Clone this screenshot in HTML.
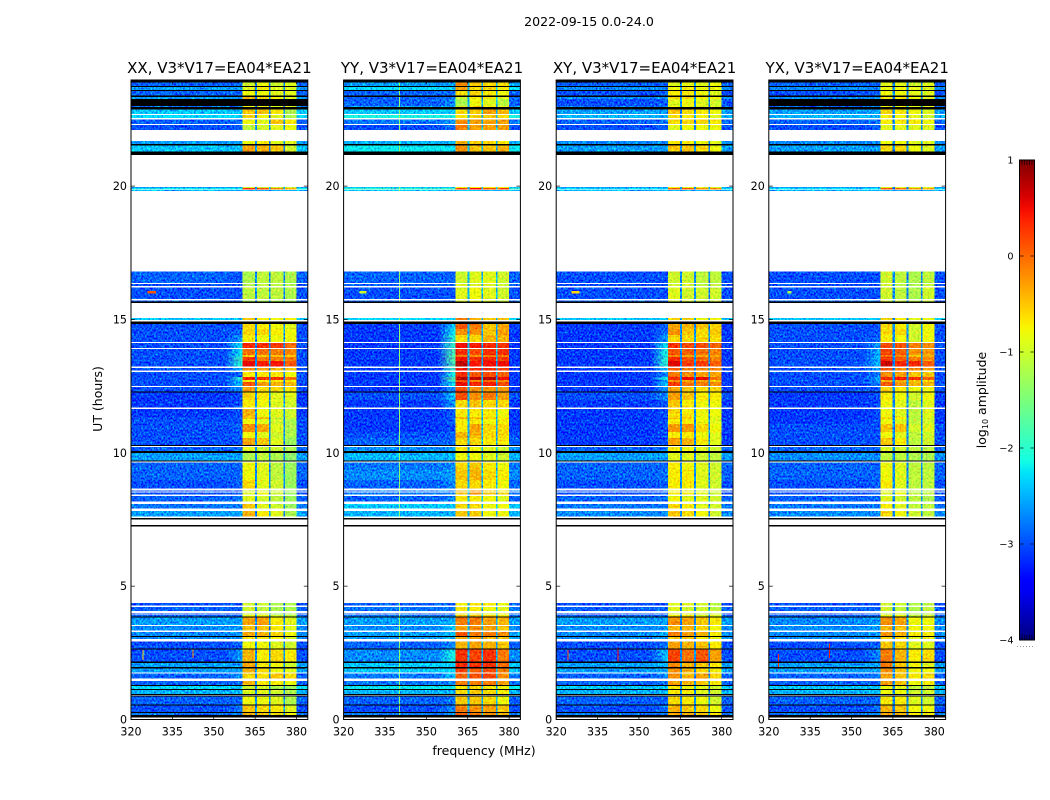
<!DOCTYPE html>
<html lang="en">
<head>
<meta charset="utf-8">
<title>2022-09-15 amplitude waterfall</title>
<style>
html,body{margin:0;padding:0;background:#fff;width:1050px;height:800px;overflow:hidden}
svg{display:block}
text{font-family:"DejaVu Sans","Liberation Sans",sans-serif;fill:#000}
</style>
</head>
<body>
<svg id="chart" xmlns="http://www.w3.org/2000/svg" width="1050" height="800" viewBox="0 0 1050 800">
<defs id="chartDefs">
<filter id="noiseBg" x="0" y="0" width="100%" height="100%" color-interpolation-filters="sRGB">
<feTurbulence type="fractalNoise" baseFrequency="0.55 0.5" numOctaves="2" seed="7" result="t"/>
<feColorMatrix in="t" type="matrix" values="0 0 0 0 0.5 1 0 0 0 0 0 0 0 0 0.5 0 0 0 0 1" result="g"/>
<feComposite in="SourceGraphic" in2="g" operator="arithmetic" k1="0" k2="1" k3="1.3" k4="-0.65" result="m"/>
<feComposite in="m" in2="SourceAlpha" operator="in"/>
</filter>
<filter id="noiseWin" x="0" y="0" width="100%" height="100%" color-interpolation-filters="sRGB">
<feTurbulence type="fractalNoise" baseFrequency="0.5 0.5" numOctaves="1" seed="3" result="t"/>
<feColorMatrix in="t" type="matrix" values="1 0 0 0 0 0 1 0 0 0 0 0 0 0 0.5 0 0 0 0 1" result="g"/>
<feComposite in="SourceGraphic" in2="g" operator="arithmetic" k1="0" k2="1" k3="0.7" k4="-0.35" result="m"/>
<feComposite in="m" in2="SourceAlpha" operator="in"/>
</filter>
<linearGradient id="jetGradient" x1="0" y1="1" x2="0" y2="0"></linearGradient>
</defs>
<text x="589" y="26" font-size="12.6" text-anchor="middle">2022-09-15 0.0-24.0</text>
<text x="484" y="755" font-size="12.5" text-anchor="middle">frequency (MHz)</text>
<text transform="translate(102,399) rotate(-90)" font-size="12.5" text-anchor="middle">UT (hours)</text>
<g id="panels"></g>
<g id="colorbar"></g>
<text transform="translate(986,400) rotate(-90)" font-size="12.5" text-anchor="middle">log<tspan font-size="8" dy="2">10</tspan><tspan dy="-2"> amplitude</tspan></text>
</svg>
<script>
// ---------- data ----------
const panelTitles = ["XX, V3*V17=EA04*EA21","YY, V3*V17=EA04*EA21","XY, V3*V17=EA04*EA21","YX, V3*V17=EA04*EA21"];
const xTicks = [320,335,350,365,380];
const yTicks = [0,5,10,15,20];
const colorbarTicks = [-4,-3,-2,-1,0,1];
const BLACK = -9; // below colour range: flagged

// frequency edges: background-left, background-edge, window1, gap, window2, gap, window3, gap, window4, tail
const freqEdges = [320,350,360.5,364.9,365.7,370,370.6,375.2,375.8,380,384.1];
const gapLevels = [-2.7,-2.5,-2.7,-2.7];

// UT bands (top hour, bottom hour) holding data
const utBands = [
[23.88,23.76],[23.71,23.61],[23.56,23.39],[23.35,23.27],[23.27,23.01],[23.01,22.97],[22.88,22.71],[22.67,22.56],[22.50,22.33],[22.29,22.11],
[21.69,21.57],[21.53,21.29],[19.97,19.93],[19.93,19.88],[19.86,19.82],[16.79,16.36],[16.33,16.26],[16.20,15.77],[15.71,15.68],[15.06,14.98],
[14.83,14.64],[14.64,14.42],[14.42,14.15],[14.11,13.93],[13.89,13.67],[13.67,13.59],[13.59,13.44],
[13.44,13.23],[13.18,13.08],[13.03,12.84],[12.84,12.73],[12.73,12.66],[12.66,12.51],[12.46,12.29],[12.26,11.98],[11.98,11.69],[11.64,11.34],
[11.34,11.27],[11.27,11.08],[11.08,10.78],[10.78,10.56],[10.56,10.29],[10.22,10.07],[10.00,9.71],[9.63,9.36],[9.36,8.98],[8.98,8.67],
[8.58,8.54],[8.51,8.43],[8.38,8.17],[8.08,7.92],[7.82,7.61],[4.37,4.28],
[4.22,4.07],[3.98,3.94],[3.91,3.86],[3.82,3.54],[3.51,3.33],[3.29,3.13],[3.09,3.01],[2.92,2.67],[2.63,2.17],[2.11,1.96],[1.92,1.77],[1.73,1.53],
[1.44,1.29],[1.25,1.14],[1.11,0.96],[0.87,0.57],[0.53,0.29],[0.25,0.16]];

// flagged bands common to all polarisations
const blackBands = [
[23.98,23.88],[23.76,23.71],[23.61,23.56],[23.39,23.35],[22.97,22.88],[21.57,21.53],[21.29,21.17],[15.68,15.62],[14.92,14.83],[12.29,12.26],
[10.29,10.26],[10.07,10.00],[9.71,9.67],[7.55,7.49],[7.29,7.23],[3.86,3.82],[3.13,3.09],[2.67,2.63],[2.17,2.11],[1.96,1.92],[1.29,1.25],
[1.14,1.11],[0.96,0.92],[0.90,0.87],[0.57,0.53],[0.29,0.25],[0.16,0.08]];

// per-band levels: [left background, edge background, window 1, 2, 3, 4]
const levelsXX = [
[-2.9,-2.9,-1,-.8,-1,-.9],[-2.6,-2.6,-.9,-.7,-.9,-.9],[-2.9,-2.9,-.8,-.8,-.9,-.9],[-2.6,-2.6,-.4,-.6,-.8,-.9],[BLACK,BLACK,BLACK,BLACK,BLACK,BLACK],
[-2.8,-2.8,-.8,-.8,-.9,-.9],[-2.4,-2.5,-.5,-.5,-.7,-1.2],[-2.3,-2.3,-.6,-.8,-.9,-1.2],[-2.9,-2.8,-.8,-.9,-.5,-.7],[-3,-2.9,-1.1,-1,-.9,-.8],
[-2.6,-2.6,-.8,-.7,-.9,-.9],[-2.4,-2.5,-.3,-.4,-.5,-1],[-2.6,-2.6,-1,-1,-1,-1],[-2.2,-2.2,.3,.2,-.2,-.4],[-2.5,-2.5,-2.5,-2.5,-2.5,-2.5],
[-2.9,-3,-1.2,-1.1,-1.1,-1.2],[-3,-3,-1.2,-1.1,-1.1,-1.2],[-3,-3,-1.1,-1.1,-1.1,-1.2],[-2.9,-2.9,-1.2,-1.2,-1.2,-1.3],[-2.4,-2.4,-.5,-.7,-.8,-.7],
[-3,-3,-.6,-.7,-.8,-.9],[-3,-2.9,-.6,-.6,-.7,-.8],[-3,-2.6,-.7,-.8,-.8,-.8],[-3,-2.2,.35,.3,.25,0],[-3,-2.2,-.05,-.05,-.1,-.15],[-3,-2.1,-.5,-.5,-.5,-.5],[-3,-1.9,.25,-.1,-.1,-.1],
[-3,-2,.55,.4,.45,.1],[-3,-2.4,-.2,-.3,-.4,-.5],[-3,-2.9,-.7,-.7,-.7,-.8],[-3,-2,.35,.3,.3,-.1],[-3,-2.4,-.7,-.7,-.7,-.7],[-3,-2.4,.1,-.3,-.4,-.4],[-3,-2.7,-.3,-.6,-.6,-.7],[-3.1,-3,-.6,-.7,-.9,-.9],[-3.1,-3,-.7,-.8,-.9,-1],[-3.1,-3,-.4,-.8,-.9,-1],
[-3,-3,-.5,-.5,-1,-1],[-3,-3,-.8,-.9,-1,-1.2],[-3,-2.9,-.2,-.35,-.9,-1.2],[-3,-2.9,-.8,-.9,-1,-1.2],[-3,-3,-.3,-.5,-.9,-1.3],[-2.9,-2.9,-.9,-1,-1,-1.2],[-2.6,-2.6,-1.2,-1.1,-1.2,-1.4],[-2.9,-2.9,-.8,-.9,-1.1,-1.3],[-2.9,-2.9,-.8,-.9,-1.1,-1.3],[-3,-2.9,-.6,-.9,-1,-1.3],
[-3,-3,-.9,-.9,-1,-1.3],[-3,-2.9,-.9,-.8,-1,-1.3],[-2.9,-2.8,-.9,-1,-1.1,-1.3],[-2.8,-2.8,-.5,-.9,-1,-1.3],[-2.6,-2.6,-.4,-.7,-.9,-1.2],[-3,-3,-1,-1,-1.2,-1.2],
[-2.9,-2.9,-1,-1.1,-1.2,-1.2],[-3,-3,-1,-1,-1.2,-1.2],[-2.9,-2.9,-.8,-.8,-1,-1.1],[-2.6,-2.6,-.3,-.3,-.7,-.9],[-2.7,-2.6,-.5,-.5,-.7,-.9],[-2.7,-2.6,-.35,-.4,-.6,-.8],[-2.7,-2.7,-.7,-.7,-.8,-.9],[-3,-2.9,-.8,-.8,-.9,-1],[-3,-2.6,-.4,-.7,-.6,-.7],[-2.6,-2.6,-.3,-.7,-.8,-1],[-2.6,-2.6,-.4,-.6,-.8,-.9],[-2.9,-2.7,-.6,-.6,-.5,-.6],
[-2.9,-2.9,-.4,-.7,-.7,-.8],[-2.3,-2.4,-1,-1,-1.2,-1.3],[-2.5,-2.5,-.9,-.9,-1,-1.2],[-2.9,-2.9,-.8,-.8,-.9,-1.2],[-3,-2.8,-.5,-.6,-.7,-.9],[-2.8,-2.7,-.4,-.5,-.6,-.8]];

const levelsYY = [
[-2.6,-2.6,-.2,-.5,-.6,-.6],[-2.3,-2.4,-.3,-.6,-.6,-.7],[-2.9,-2.8,-.6,-.6,-.7,-.8],[-2.9,-2.8,-1,-.7,-.7,-.9],[-2.9,-2.7,-1.2,-.8,-.9,-1.1],
[-2.6,-2.5,-.9,-.6,-.7,-.9],[-2.4,-2.4,-.6,-.5,-.3,-.4],[-2.1,-2.1,-.7,-.6,-.5,-.6],[-2.8,-2.6,-.2,-.3,-.3,-.3],[-3,-2.8,-.1,-.3,-.3,-.3],
[-2.5,-2.5,-.4,-.5,-.6,-.7],[-2.2,-2.3,-.2,-.5,-.5,-.4],[-2.4,-2.4,-.7,-.7,-.7,-.7],[-2,-1.9,.25,.45,.2,.2],[-2.4,-2.4,-2.4,-2.4,-2.4,-2.4],
[-2.9,-2.9,-1,-.9,-.9,-1],[-2.9,-2.9,-.9,-.9,-.9,-1],[-3,-3,-.9,-.8,-.9,-1],[-2.9,-2.9,-.9,-.8,-.9,-1],[-2.3,-2.3,-.1,-.4,-.5,-.5],
[-3.1,-2.3,.1,-.1,-.5,-.3],[-3.1,-2.2,-.2,-.2,-.5,-.3],[-3.1,-2,-.6,-.6,-.4,-.4],[-3.1,-1.9,.5,.4,.35,.3],[-3.1,-1.8,.35,.15,.3,.3],[-3.1,-1.7,-.1,-.2,-.1,-.1],[-3.1,-1.7,.5,.3,.35,.25],
[-3.1,-1.8,.75,.45,.5,.5],[-3.1,-1.9,.5,.3,.3,.2],[-3.1,-2.1,.3,.1,.15,.05],[-3.1,-1.7,.75,.7,.75,.5],[-3.1,-2,.1,-.1,0,-.2],[-3.1,-2.2,.55,.35,.4,.2],[-3.1,-2.6,.15,-.2,-.2,-.3],[-3,-2.4,.15,-.2,-.1,-.3],[-3.1,-2.6,-.6,-.5,-.6,-.6],[-3.1,-2.9,-.7,-.7,-.7,-.8],
[-3.1,-3,-.4,-.5,-.6,-.7],[-3.1,-2.9,-.7,-.7,-.8,-.7],[-3.1,-3,-.7,-.3,-.6,-.6],[-3,-2.9,-.4,-.4,-.6,-.6],[-2.9,-2.9,-.6,-.6,-.7,-.7],[-2.7,-2.6,-.7,-.8,-.9,-1],[-2.5,-2.5,-.8,-.8,-.9,-1],[-2.8,-2.7,-.6,-.5,-.7,-.8],[-2.7,-2.6,-.5,-.4,-.6,-.7],[-2.9,-2.7,-.6,-.6,-.7,-.8],
[-2.8,-2.8,-.4,-.2,-.6,-.7],[-2.8,-2.7,-.5,-.2,-.5,-.6],[-2.9,-2.7,-.7,-.7,-.8,-.9],[-2.4,-2.4,-.6,-.6,-.8,-.8],[-2.5,-2.5,-.5,-.5,-.8,-.8],[-2.9,-2.9,-.7,-.7,-.7,-.8],
[-2.8,-2.8,-.7,-.7,-.8,-.9],[-2.9,-2.9,-.7,-.7,-.8,-.8],[-2.8,-2.8,-.5,-.5,-.6,-.7],[-2.6,-2.5,-.1,-.1,-.3,-.4],[-2.7,-2.4,-.3,-.2,-.3,-.5],[-2.6,-2.4,.1,-.1,-.1,-.2],[-2.6,-2.5,-.4,-.3,-.4,-.5],[-2.9,-2.7,-.4,-.3,-.4,-.5],[-2.7,-2.1,.3,.2,.3,-.1],[-2.4,-2.3,.35,.3,.3,0],[-2.4,-2.3,.2,.1,.15,-.1],[-2.8,-2.4,.05,.1,.2,-.2],
[-2.8,-2.7,-.1,-.1,-.1,-.3],[-2.2,-2.2,-.7,-.6,-.7,-.8],[-2.5,-2.5,-.6,-.5,-.6,-.7],[-2.9,-2.8,-.5,-.5,-.6,-.8],[-3,-2.7,-.1,-.2,-.3,-.5],[-2.8,-2.6,.05,-.1,-.2,-.4]];

const levelsXY = [
[-2.9,-2.9,-.9,-.8,-.9,-.8],[-2.7,-2.7,-.8,-.7,-.8,-.8],[-3,-2.9,-.7,-.7,-.8,-.9],[-2.7,-2.7,-.6,-.6,-.7,-.8],[-3,-2.9,-.9,-.8,-.9,-1],
[-2.8,-2.8,-.8,-.8,-.9,-.9],[-2.6,-2.6,-.5,-.6,-.7,-.8],[-2.5,-2.5,-.6,-.7,-.8,-.9],[-2.9,-2.8,-.6,-.6,-.6,-.7],[-3,-2.9,-.9,-.8,-.8,-.8],
[-2.7,-2.7,-.7,-.7,-.8,-.9],[-2.6,-2.6,-.5,-.5,-.6,-.8],[-2.6,-2.6,-.8,-.9,-.9,-.9],[-2.3,-2.3,.1,.05,-.2,-.2],[-2.5,-2.5,-2.5,-2.5,-2.5,-2.5],
[-3,-3,-1,-1,-1.1,-1.1],[-3,-3,-1,-1,-1.1,-1.1],[-3,-3,-.9,-1,-1,-1],[-2.9,-2.9,-1,-1,-1,-1],[-2.4,-2.4,-.6,-.6,-.8,-.8],
[-3.1,-2.9,-.3,-.4,-.5,-.6],[-3.1,-2.8,-.2,-.5,-.6,-.5],[-3.1,-2.6,-.6,-.6,-.6,-.6],[-3.1,-2.2,.3,.15,.15,.05],[-3.1,-2.1,.1,.05,-.05,-.15],[-3.1,-2.1,-.2,-.3,-.3,-.3],[-3.1,-2,.35,.1,0,-.1],
[-3.1,-2,.6,.25,.25,.05],[-3.1,-2.4,.05,-.1,-.15,-.15],[-3.1,-2.7,-.1,-.2,-.3,-.3],[-3.1,-2.1,.35,.5,.55,-.05],[-3.1,-2.5,-.2,-.3,-.3,-.5],[-3.1,-2.4,.25,-.05,-.1,-.2],[-3.1,-2.6,-.3,-.5,-.6,-.6],[-3,-2.7,-.3,-.5,-.7,-.7],[-3.1,-2.9,-.5,-.7,-.8,-.8],[-3.1,-3,-.6,-.7,-.8,-.8],
[-3.1,-3,-.6,-.5,-.8,-.9],[-3.1,-3,-.7,-.7,-.8,-.9],[-3.1,-3,-.25,-.25,-.6,-.8],[-3.1,-3,-.7,-.7,-.8,-.9],[-3.1,-3,-.3,-.4,-.7,-.9],[-2.9,-2.8,-.7,-.8,-.9,-1],[-2.6,-2.6,-.9,-.9,-1,-1.1],[-2.9,-2.9,-.7,-.8,-.9,-1],[-2.9,-2.8,-.7,-.7,-.9,-1],[-3,-2.9,-.7,-.7,-.9,-1],
[-3,-2.9,-.8,-.8,-.9,-1],[-3,-2.9,-.7,-.7,-.9,-1],[-2.9,-2.8,-.8,-.9,-.9,-1],[-2.8,-2.8,-.6,-.7,-.9,-1],[-2.7,-2.7,-.5,-.6,-.8,-1],[-3,-3,-.9,-.9,-1,-1.1],
[-2.9,-2.9,-.9,-1,-1,-1.1],[-3,-2.9,-.9,-.9,-1,-1],[-2.9,-2.9,-.7,-.7,-.9,-.9],[-2.6,-2.6,-.2,-.3,-.5,-.7],[-2.7,-2.6,-.4,-.4,-.6,-.8],[-2.7,-2.5,-.1,-.3,-.4,-.7],[-2.7,-2.6,-.5,-.5,-.7,-.8],[-3,-2.8,-.3,-.4,-.5,-.7],[-3,-2.4,.2,-.05,.1,-.3],[-2.6,-2.5,-.2,-.4,-.5,-.7],[-2.6,-2.5,-.2,-.4,-.6,-.7],[-2.9,-2.7,-.2,-.4,-.3,-.6],
[-2.9,-2.8,-.3,-.4,-.5,-.7],[-2.4,-2.4,-.7,-.8,-.9,-1],[-2.5,-2.5,-.7,-.7,-.9,-1],[-2.9,-2.9,-.6,-.7,-.8,-1],[-3,-2.8,-.4,-.5,-.6,-.8],[-2.8,-2.7,-.3,-.4,-.5,-.7]];

const levelsYX = [
[-2.9,-2.9,-.9,-.9,-1,-.9],[-2.7,-2.7,-.8,-.8,-.9,-.9],[-3,-2.9,-.8,-.8,-.9,-.9],[-2.7,-2.7,-.7,-.7,-.8,-.9],[BLACK,BLACK,BLACK,BLACK,BLACK,BLACK],
[-2.9,-2.8,-.8,-.8,-.9,-.9],[-2.6,-2.6,-.6,-.7,-.8,-.9],[-2.5,-2.5,-.7,-.8,-.9,-1],[-2.9,-2.8,-.7,-.7,-.7,-.8],[-3,-2.9,-.9,-.9,-.9,-.9],
[-2.7,-2.7,-.8,-.8,-.9,-.9],[-2.6,-2.6,-.6,-.6,-.8,-.9],[-2.6,-2.6,-.9,-.9,-.9,-.9],[-2.3,-2.3,.05,0,-.3,-.3],[-2.5,-2.5,-2.5,-2.5,-2.5,-2.5],
[-3,-3,-1,-1.1,-1.2,-1.1],[-3,-3,-1,-1.1,-1.2,-1.1],[-3,-3,-1,-1.1,-1.2,-1],[-2.9,-2.9,-1,-1,-1.1,-1],[-2.4,-2.4,-.6,-.7,-.9,-.8],
[-3,-3,-.6,-.7,-1,-.8],[-3,-3,-.6,-.6,-1,-.8],[-3,-2.9,-.7,-.8,-1,-.8],[-3,-2.6,.15,.1,-.1,-.2],[-3,-2.5,.2,.05,-.2,-.25],[-3,-2.5,-.1,-.2,-.5,-.4],[-3,-2.5,.3,.1,-.1,-.2],
[-3,-2.4,.65,.35,.35,.05],[-3,-2.6,.1,-.15,-.2,-.3],[-3,-2.8,-.2,-.3,-.5,-.5],[-3,-2.5,.35,.45,.3,.05],[-3,-2.7,-.4,-.4,-.5,-.6],[-3,-2.7,.1,-.2,-.4,-.4],[-3,-2.9,-.6,-.7,-.8,-.8],[-3.1,-3,-.7,-.8,-1,-.8],[-3.1,-3,-.8,-.9,-1.1,-.9],[-3.1,-3,-.8,-.9,-1.1,-.9],
[-3.1,-3,-.6,-.7,-1.1,-.9],[-3.1,-3,-.8,-.9,-1.1,-1],[-3,-3,-.5,-.5,-1,-.9],[-3,-3,-.8,-.9,-1.1,-1],[-3,-3,-.5,-.7,-1.1,-1],[-2.9,-2.9,-.9,-1,-1.1,-1.1],[-2.7,-2.7,-1.1,-1.1,-1.2,-1.2],[-2.9,-2.9,-.8,-.9,-1.1,-1.1],[-2.9,-2.9,-.8,-.9,-1.1,-1.1],[-3,-2.9,-.7,-.9,-1.1,-1.1],
[-3,-3,-.9,-.9,-1.1,-1.1],[-3,-2.9,-.9,-.8,-1.1,-1.1],[-2.9,-2.9,-.9,-1,-1.1,-1.2],[-2.8,-2.8,-.7,-.9,-1.1,-1.1],[-2.7,-2.7,-.6,-.8,-1,-1.1],[-3,-3,-1,-1,-1.2,-1.1],
[-2.9,-2.9,-1,-1.1,-1.2,-1.1],[-3,-3,-1,-1,-1.2,-1.1],[-2.9,-2.9,-.8,-.8,-1.1,-1],[-2.7,-2.6,-.2,-.3,-.8,-.8],[-2.7,-2.6,-.4,-.5,-.8,-.8],[-2.7,-2.6,-.2,-.4,-.7,-.7],[-2.7,-2.7,-.6,-.6,-.9,-.8],[-3,-2.9,-.5,-.6,-.9,-.9],[-3,-2.7,-.1,-.4,-.7,-.6],[-2.6,-2.6,-.1,-.5,-.8,-.9],[-2.6,-2.6,-.2,-.5,-.8,-.8],[-2.9,-2.8,-.3,-.5,-.7,-.6],
[-2.9,-2.9,-.3,-.5,-.8,-.7],[-2.4,-2.4,-.8,-.9,-1.1,-1.1],[-2.5,-2.5,-.8,-.8,-1,-1],[-2.9,-2.9,-.7,-.7,-.9,-1],[-3,-2.8,-.4,-.5,-.8,-.8],[-2.8,-2.7,-.3,-.4,-.7,-.7]];

const panelLevels = [levelsXX,levelsYY,levelsXY,levelsYX];

// narrow interference features: panel index, freq (MHz), UT start, UT end, level
const rfiPanels = [1,0,0,2,2,3,3,0,1,2,3];
const rfiFreqs  = [340.2,324.4,342.5,324.3,342.4,323.5,342,327.5,327,327,327.5];
const rfiStart  = [0.1,2.24,2.3,2.24,2.16,1.9,2.3,15.98,15.98,15.98,15.98];
const rfiEnd    = [24,2.6,2.65,2.6,2.7,2.45,2.85,16.06,16.06,16.06,16.06];
const rfiLevels = [-1.4,-.6,-.2,.2,.4,.3,.4,.1,-1,-.6,-1.2];
const rfiWidths = [0.35,0.35,0.35,0.4,0.4,0.4,0.4,3,2.5,3,1.5];

// ---------- axes ----------
const NS = "http://www.w3.org/2000/svg";
const panelLeft = [131,343.6,556.2,768.8];
const panelWidth = 176.8;
const plotTop = 80;
const plotBottom = 719.5;
const pxPerHour = 26.67;
const xMin = 320, xMax = 384.1;
function xScale(left,f){return left+(f-xMin)/(xMax-xMin)*panelWidth;}
function yScale(h){return plotBottom-h*pxPerHour;}

function jetChannel(t,pts){
  for(let i=1;i<pts.length;i++){
    if(t<=pts[i][0]){
      const a=pts[i-1],b=pts[i];
      return a[1]+(t-a[0])/(b[0]-a[0])*(b[1]-a[1]);
    }
  }
  return pts[pts.length-1][1];
}
const jetR=[[0,0],[.35,0],[.66,1],[.89,1],[1,.5]];
const jetG=[[0,0],[.125,0],[.375,1],[.64,1],[.91,0],[1,0]];
const jetB=[[0,.5],[.11,1],[.34,1],[.65,0],[1,0]];
function colorFor(v){
  if(v<-4) return "#000";
  const t=Math.min(1,(v+4)/5);
  return "rgb("+Math.round(255*jetChannel(t,jetR))+","+Math.round(255*jetChannel(t,jetG))+","+Math.round(255*jetChannel(t,jetB))+")";
}
function make(tag,attrs,parent){
  const el=document.createElementNS(NS,tag);
  for(const k in attrs){el.setAttribute(k,attrs[k]);}
  parent.appendChild(el);
  return el;
}
function cell(parent,x0,x1,y0,y1,v){
  const el=make("rect",{x:x0,y:y0,width:Math.max(x1-x0,.5),height:Math.max(y1-y0,.5),fill:colorFor(v),"shape-rendering":"crispEdges"},parent);
  
  
  return el;
}
const defs=document.getElementById("chartDefs");
let gradCount=0;
function rampFill(el,fromV,toV){
  const id="ramp"+(gradCount++);
  const lg=make("linearGradient",{id:id,x1:0,y1:0,x2:1,y2:0},defs);
  make("stop",{offset:"0%","stop-color":colorFor(fromV)},lg);
  make("stop",{offset:"40%","stop-color":colorFor(fromV)},lg);
  make("stop",{offset:"100%","stop-color":colorFor(toV)},lg);
  el.setAttribute("fill","url(#"+id+")");
}

const root=document.getElementById("panels");
panelTitles.forEach(function(title,p){
  const left=panelLeft[p];
  const levels=panelLevels[p];
  const g=make("g",{},root);
  
  

  const bgGroup=make("g",{filter:"url(#noiseBg)"},g);
  
  
  const winGroup=make("g",{filter:"url(#noiseWin)"},g);
  
  
  const flagGroup=make("g",{},g);
  
  

  utBands.forEach(function(band,i){
    const row=levels[i];
    if(!row) return;
    const y0=yScale(band[0]), y1=yScale(band[1]);
    const X=function(f){return xScale(left,f);};
    const flagged=row[0]<-4;
    const target=flagged?flagGroup:bgGroup;
    cell(target,X(freqEdges[0]),X(freqEdges[1]),y0,y1,row[0]);
    const edgeCell=cell(target,X(freqEdges[1]),X(freqEdges[2]),y0,y1,row[1]);
    if(!flagged && row[1]!==row[0]) rampFill(edgeCell,row[0],row[1]);
    cell(target,X(freqEdges[9]),X(freqEdges[10]),y0,y1,row[0]);
    const wt=flagged?flagGroup:winGroup;
    cell(wt,X(freqEdges[2]),X(freqEdges[3]),y0,y1,row[2]);
    cell(wt,X(freqEdges[4]),X(freqEdges[5]),y0,y1,row[3]);
    cell(wt,X(freqEdges[6]),X(freqEdges[7]),y0,y1,row[4]);
    cell(wt,X(freqEdges[8]),X(freqEdges[9]),y0,y1,row[5]);
    const gv=flagged?BLACK:gapLevels[p];
    cell(target,X(freqEdges[3]),X(freqEdges[4]),y0,y1,gv);
    cell(target,X(freqEdges[5]),X(freqEdges[6]),y0,y1,gv);
    cell(target,X(freqEdges[7]),X(freqEdges[8]),y0,y1,gv);
  });

  rfiPanels.forEach(function(rp,r){
    if(rp!==p) return;
    utBands.forEach(function(band){
      const top=Math.min(band[0],rfiEnd[r]), bot=Math.max(band[1],rfiStart[r]);
      if(top<=bot) return;
      cell(g,xScale(left,rfiFreqs[r]-rfiWidths[r]/2),xScale(left,rfiFreqs[r]+rfiWidths[r]/2),yScale(top),yScale(bot),rfiLevels[r]);
    });
  });

  blackBands.forEach(function(band){
    cell(flagGroup,left,left+panelWidth,yScale(band[0]),yScale(band[1]),BLACK);
  });

  const frame=make("rect",{x:left,y:plotTop,width:panelWidth,height:plotBottom-plotTop,fill:"none",stroke:"#000","stroke-width":1},g);
  
  

  const titleEl=make("text",{x:left+panelWidth/2,y:73,"font-size":15,"text-anchor":"middle"},g);
  titleEl.textContent=title;
  
  

  xTicks.forEach(function(t){
    const x=xScale(left,t);
    const a=make("line",{x1:x,x2:x,y1:plotBottom,y2:plotBottom-4,stroke:"#000","stroke-width":.7},g);
    
    
    const b=make("line",{x1:x,x2:x,y1:plotTop,y2:plotTop+4,stroke:"#000","stroke-width":.7},g);
    
    
    const lab=make("text",{x:x,y:735.5,"font-size":11.1,"text-anchor":"middle"},g);
    lab.textContent=String(t);
    
    
  });
  yTicks.forEach(function(t){
    const y=yScale(t);
    const a=make("line",{x1:left,x2:left+4,y1:y,y2:y,stroke:"#000","stroke-width":.7},g);
    
    
    const b=make("line",{x1:left+panelWidth,x2:left+panelWidth-4,y1:y,y2:y,stroke:"#000","stroke-width":.7},g);
    
    
    const lab=make("text",{x:left-4,y:y+4,"font-size":11.1,"text-anchor":"end"},g);
    lab.textContent=String(t);
    
    
  });
});

// ---------- colorbar ----------
const cb=document.getElementById("colorbar");
const cbLeft=1019.5, cbRight=1034.5, cbTop=160, cbBottom=640;
function cbY(v){return cbBottom-(v+4)/5*(cbBottom-cbTop);}
const grad=document.getElementById("jetGradient");
for(let s=0;s<=40;s++){
  make("stop",{offset:(s/40*100)+"%","stop-color":colorFor(-4+5*s/40)},grad);
}
const bar=make("rect",{x:cbLeft,y:cbTop,width:cbRight-cbLeft,height:cbBottom-cbTop,fill:"url(#jetGradient)",stroke:"#000","stroke-width":1},cb);


colorbarTicks.forEach(function(t){
  const y=cbY(t);
  const a=make("line",{x1:cbLeft,x2:cbLeft+4,y1:y,y2:y,stroke:"#000","stroke-width":.7},cb);
  
  
  const b=make("line",{x1:cbRight,x2:cbRight-4,y1:y,y2:y,stroke:"#000","stroke-width":.7},cb);
  
  
  const lab=make("text",{x:1013.5,y:y+3.5,"font-size":9.7,"text-anchor":"end"},cb);
  lab.textContent=(t<0?"\u2212":"")+Math.abs(t);
  
  
});
const hatchEnds=[[cbTop,cbTop+5],[cbBottom-5,cbBottom]];
hatchEnds.forEach(function(seg){
  for(let i=1;i<6;i++){
    const x=cbLeft+i*(cbRight-cbLeft)/6;
    const l=make("line",{x1:x,x2:x,y1:seg[0],y2:seg[1],stroke:"#000","stroke-width":.6},cb);
    
    
  }
});
const dots=make("line",{x1:1017,x2:1035,y1:646.5,y2:646.5,stroke:"#999","stroke-width":1,"stroke-dasharray":"1 2"},cb);


</script>
</body>
</html>
